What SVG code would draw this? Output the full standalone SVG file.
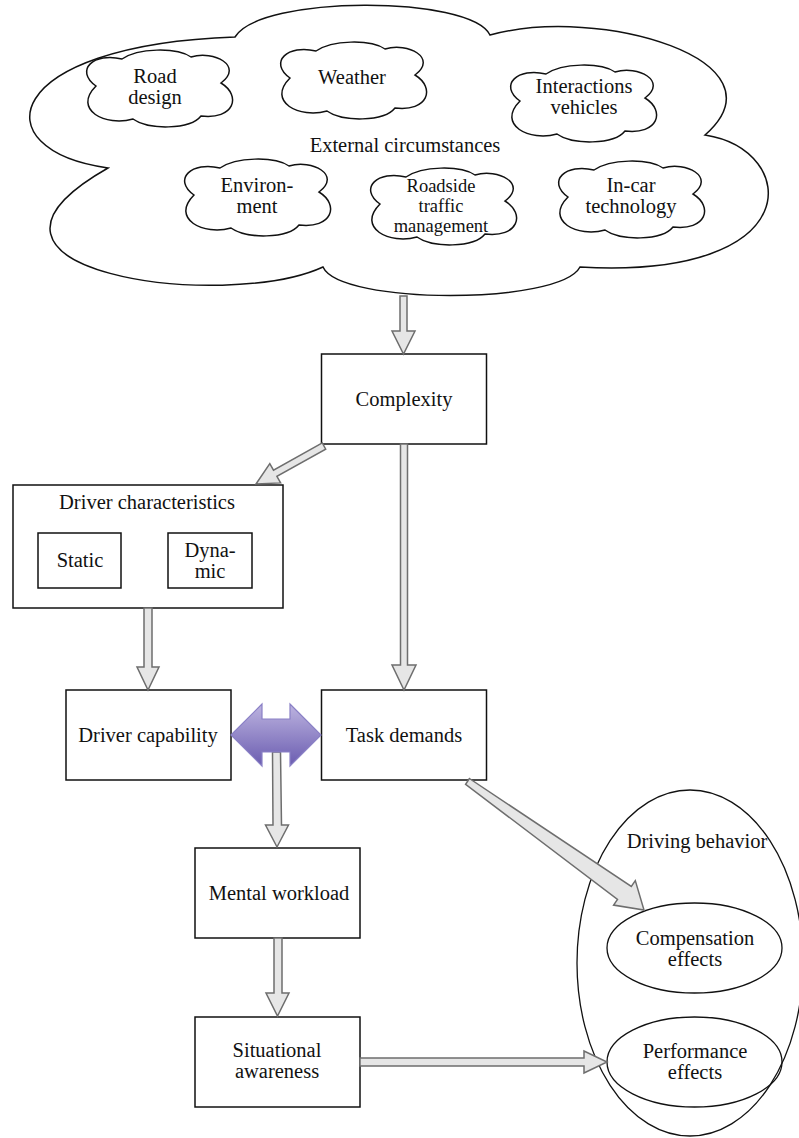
<svg xmlns="http://www.w3.org/2000/svg" width="799" height="1138" viewBox="0 0 799 1138">
<style>
.t{font-family:"Liberation Serif","Times New Roman",serif;font-size:20.5px;fill:#111;text-anchor:middle}
.s{font-size:18.5px}
.box{fill:#fff;stroke:#111;stroke-width:1.5}
.cl{fill:#fff;stroke:#111;stroke-width:1.5}
.ar{fill:#e6e6e6;stroke:#6e6e6e;stroke-width:1.5;stroke-linejoin:miter}
.el{fill:none;stroke:#111;stroke-width:1.3}
</style>
<defs>
<linearGradient id="pg" x1="0" y1="0" x2="0" y2="1">
<stop offset="0" stop-color="#bdb4e0"/>
<stop offset="1" stop-color="#6a5cb0"/>
</linearGradient>
<path id="sc" d="M18,36 C-4,20 16,2 44,9 C60,-2 98,-3 113,7 C136,0 166,16 143,33 C164,46 156,70 123,66 C112,80 70,80 55,69 C28,77 -6,60 18,36 Z"/>
</defs>
<rect width="799" height="1138" fill="#fff"/>

<g id="external">
<path class="cl" d="M235,37 C260,-5 470,-5 490,35 C600,5 790,60 705,135 C800,150 810,280 580,267 C560,305 340,305 323,267 C225,312 -75,272 108,168 C-20,150 0,45 235,37 Z"/>
<text class="t" x="405" y="152">External circumstances</text>
</g>
<g id="road-design">
<use href="#sc" class="cl" transform="translate(78,50)"/>
<text class="t" x="155" y="83">Road</text>
<text class="t" x="155" y="104">design</text>
</g>
<g id="weather">
<use href="#sc" class="cl" transform="translate(272,42)"/>
<text class="t" x="352" y="84">Weather</text>
</g>
<g id="interactions">
<use href="#sc" class="cl" transform="translate(502,65)"/>
<text class="t" x="584" y="93">Interactions</text>
<text class="t" x="584" y="114">vehicles</text>
</g>
<g id="environment">
<use href="#sc" class="cl" transform="translate(176,159)"/>
<text class="t" x="257" y="192">Environ-</text>
<text class="t" x="257" y="213">ment</text>
</g>
<g id="roadside">
<use href="#sc" class="cl" transform="translate(362,168)"/>
<text class="t s" x="441" y="192">Roadside</text>
<text class="t s" x="441" y="212">traffic</text>
<text class="t s" x="441" y="232">management</text>
</g>
<g id="in-car">
<use href="#sc" class="cl" transform="translate(550,161)"/>
<text class="t" x="631" y="192">In-car</text>
<text class="t" x="631" y="213">technology</text>
</g>

<g id="complexity">
<rect class="box" x="321.5" y="354" width="165" height="90"/>
<text class="t" x="404" y="406">Complexity</text>
</g>
<g id="driver-characteristics">
<rect class="box" x="13" y="485" width="270" height="123"/>
<text class="t" x="147" y="509">Driver characteristics</text>
<rect class="box" x="38" y="533" width="83" height="55"/>
<text class="t" x="80" y="567">Static</text>
<rect class="box" x="168" y="533" width="84" height="55"/>
<text class="t" x="210" y="557">Dyna-</text>
<text class="t" x="210" y="578">mic</text>
</g>
<g id="driver-capability">
<rect class="box" x="66" y="690" width="165" height="90"/>
<text class="t" x="148" y="742">Driver capability</text>
</g>
<g id="task-demands">
<rect class="box" x="321.5" y="690" width="165" height="90"/>
<text class="t" x="404" y="742">Task demands</text>
</g>
<g id="mental-workload">
<rect class="box" x="195" y="848" width="165" height="90"/>
<text class="t" x="279" y="900">Mental workload</text>
</g>
<g id="situational-awareness">
<rect class="box" x="195" y="1017" width="165" height="90"/>
<text class="t" x="277" y="1057">Situational</text>
<text class="t" x="277" y="1078">awareness</text>
</g>
<g id="driving-behavior">
<ellipse class="el" cx="690" cy="963" rx="113" ry="173"/>
<text class="t" x="697" y="848">Driving behavior</text>
</g>
<g id="compensation">
<ellipse class="el" cx="694.5" cy="948" rx="87.5" ry="45"/>
<text class="t" x="695" y="945">Compensation</text>
<text class="t" x="695" y="966">effects</text>
</g>
<g id="performance">
<ellipse class="el" cx="694.5" cy="1062" rx="87.5" ry="45"/>
<text class="t" x="695" y="1058">Performance</text>
<text class="t" x="695" y="1079">effects</text>
</g>

<g id="connectors">
<polygon class="ar" points="400,296 407,296 407,331 415,331 403.5,354 392,331 400,331"/>
<polygon class="ar" points="322.3,442.9 273.5,470.2 269.8,463.7 256,484 280.6,482.9 276.9,476.4 325.7,449.1"/>
<polygon class="ar" points="400.5,444 407.5,444 407.5,665 416,665 404,690 392,665 400.5,665"/>
<polygon class="ar" points="144,608 152,608 152,667 159,667 148,690 137,667 144,667"/>
<polygon class="ar" points="272.5,752 280.5,752 281.5,825 288.5,825 277,847 265.5,825 273,825"/>
<polygon class="ar" points="274,938 282,938 282,993 289,993 277.5,1016 266,993 274,993"/>
<polygon class="ar" points="360,1058 584,1058 584,1051 607,1062 584,1073 584,1066 360,1066"/>
<polygon class="ar" points="469.4,778.5 631.3,886.4 635.3,880.6 644,910 613.6,905.1 617.5,899.4 465.6,784.3"/>
<polygon fill="url(#pg)" stroke="#8a80c6" stroke-width="1.2" points="231,735 262,704 262,719 290,719 290,704 321,735 290,766 290,752 262,752 262,766"/>
</g>
</svg>
